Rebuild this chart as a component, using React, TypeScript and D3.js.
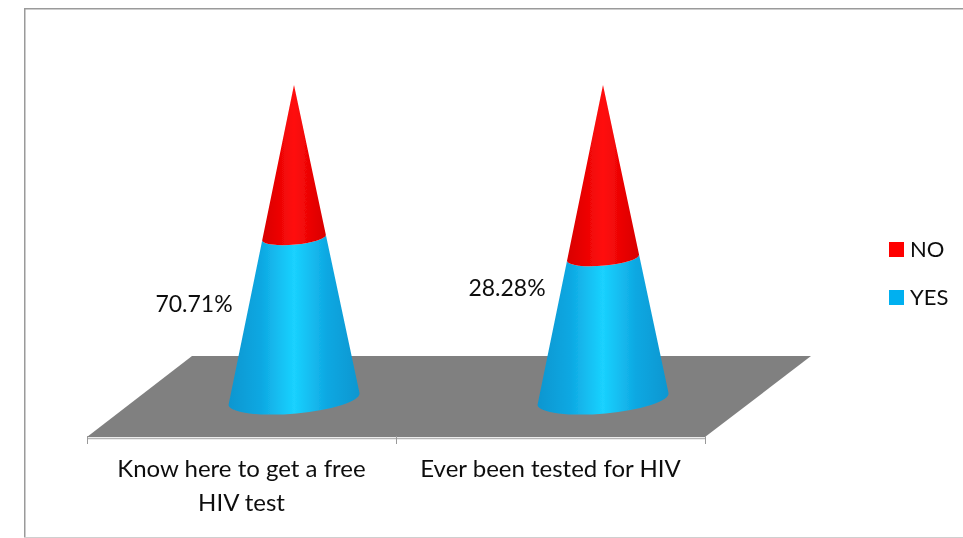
import React from "react";
import * as d3 from "d3";

const categories = ["Know here to get a free|HIV test", "Ever been tested for HIV"];
const yesLabels = ["70.71%", "28.28%"];
// drawn height of the YES part of each cone, in percent of the cone height
const yesHeights = [51.4, 45];
const legendNames = ["NO", "YES"];
const legendColors = ["#ff0000", "#00b0f0"];
const axisDomain = [0, 100];

const W = 963, H = 538;
const FONT = "Lato, Carlito, sans-serif";

export default function App() {
  const x = d3.scaleBand<number>().domain([0, 1]).range([87, 705]);
  const y = d3.scaleLinear().domain(axisDomain).range([399, 85]);
  const baseHalf = 65.5, baseRy = 14.5, tilt = -5, rimDy = 6;
  const coneX = (i: number) => x(i)! + x.bandwidth() / 2 + 52.5;

  const conePath = (cx: number, v0: number, v1: number) => {
    const t = (v: number) => (y(v) - y(100)) / (y(0) - y(100));
    const hw0 = baseHalf * t(v0), hw1 = baseHalf * t(v1);
    const y0 = y(v0), y1 = y(v1);
    let s = `M${cx - hw0},${y0 + rimDy * t(v0)}`;
    s += `A${hw0},${baseRy * t(v0)} ${tilt} 0 0 ${cx + hw0},${y0 - rimDy * t(v0)}`;
    if (v1 >= 100) {
      s += `L${cx},${y1}Z`;
    } else {
      s += `L${cx + hw1},${y1 - rimDy * t(v1)}`;
      s += `A${hw1},${baseRy * t(v1)} ${tilt} 0 1 ${cx - hw1},${y1 + rimDy * t(v1)}Z`;
    }
    return s;
  };

  return (
    <svg width={W} height={H} style={{ position: "absolute", left: 0, top: 0, background: "#fff" }}>
      <defs>
        <linearGradient id="blueG" x1="0" x2="1" y1="0" y2="0">
          <stop offset="0" stopColor="#0d96d0" />
          <stop offset="0.25" stopColor="#0fa8e2" />
          <stop offset="0.5" stopColor="#1ad2ff" />
          <stop offset="0.75" stopColor="#0fa8e2" />
          <stop offset="1" stopColor="#0d96d0" />
        </linearGradient>
        <linearGradient id="redG" x1="0" x2="1" y1="0" y2="0">
          <stop offset="0" stopColor="#d80000" />
          <stop offset="0.5" stopColor="#ff0a0a" />
          <stop offset="1" stopColor="#d80000" />
        </linearGradient>
        <filter id="soft" x="0" y="0" width="100%" height="100%">
          <feGaussianBlur stdDeviation="0.45" />
        </filter>
      </defs>

      <g filter="url(#soft)">
        <path d={`M24.5,${H}V8.5H${W}`} fill="none" stroke="#9a9a9a" strokeWidth={2} />
        <path d={`M24,${H - 0.5}H${W}`} fill="none" stroke="#cfcfcf" strokeWidth={1} />

        <polygon points="87,437 192,356 811,356 705,437" fill="#808080" />
        <path d="M87,438.5H705" stroke="#b5b5b5" strokeWidth={1.5} fill="none" />
        {[87, 396, 705].map((tx) => (
          <line key={tx} x1={tx + 0.5} x2={tx + 0.5} y1={436} y2={444} stroke="#999" strokeWidth={1} />
        ))}

        {categories.map((c, i) => {
          const cx = coneX(i);
          return (
            <g key={c}>
              <path d={conePath(cx, 0, yesHeights[i])} fill="url(#blueG)" />
              <path d={conePath(cx, yesHeights[i], 100)} fill="url(#redG)" />
              {c.split("|").map((l, j) => (
                <text key={l} x={x(i)! + x.bandwidth() / 2} y={477 + j * 34} textAnchor="middle"
                  fontFamily={FONT} fontSize={24} fill="#111">{l}</text>
              ))}
              <text x={i === 0 ? 194 : 507} y={i === 0 ? 312 : 296} textAnchor="middle" fontFamily={FONT} fontSize={23} fill="#111">
                {yesLabels[i]}
              </text>
            </g>
          );
        })}

        {legendNames.map((n, i) => (
          <g key={n}>
            <rect x={889} y={242 + i * 48} width={15} height={15} fill={legendColors[i]} />
            <text x={910} y={257 + i * 48} fontFamily={FONT} fontSize={22} fill="#111">{n}</text>
          </g>
        ))}
      </g>
    </svg>
  );
}
